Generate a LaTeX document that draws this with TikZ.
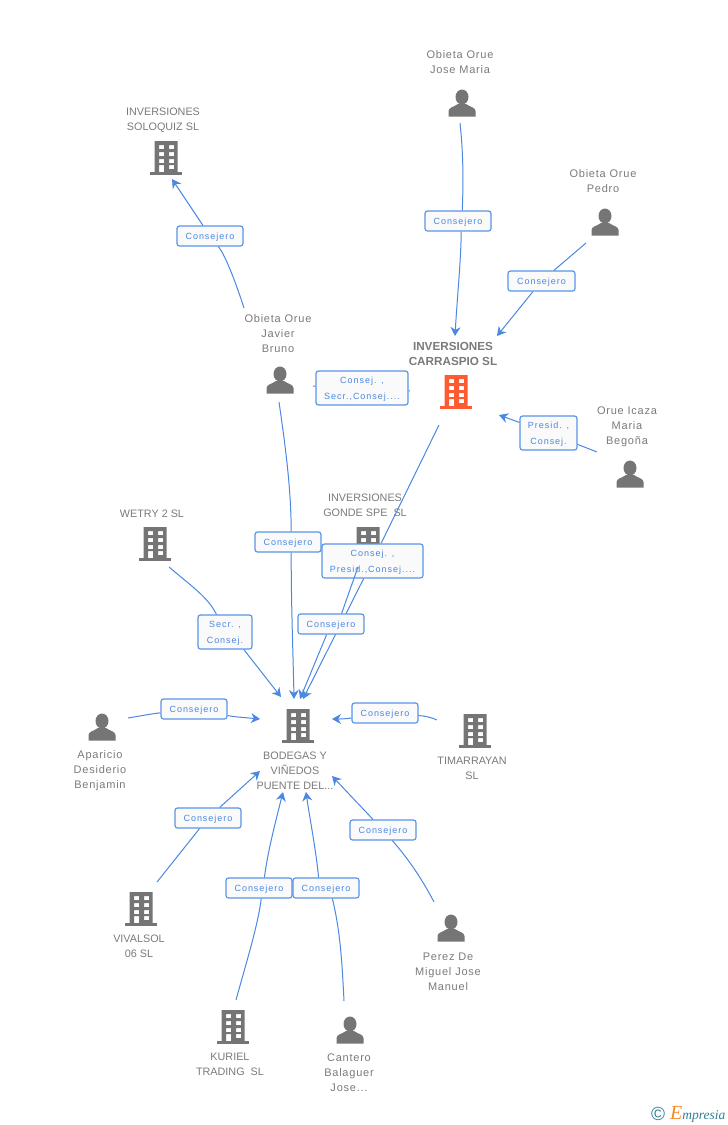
\documentclass[tikz,border=0pt]{standalone}
\usepackage{fontspec}
\setmainfont[LetterSpace=7]{Liberation Sans}
\newfontfamily\tagfont[LetterSpace=11]{Liberation Sans}
\newfontfamily\mainfont{Liberation Sans}
\newfontfamily\logofont{Liberation Serif}
\usepackage{xcolor}
\usetikzlibrary{arrows.meta}

\definecolor{iconcol}{HTML}{757575}
\definecolor{textcol}{HTML}{7A7A7A}
\definecolor{wirecol}{HTML}{4A88E2}
\definecolor{tagcol}{HTML}{5B94E6}
\definecolor{maincol}{HTML}{FF5B33}
\definecolor{logocol}{HTML}{2F7F96}
\definecolor{logoorange}{HTML}{F08A24}

\tikzset{
    wire/.style={draw=wirecol, line width=1pt},
    arrowed/.style={wire, -{Stealth[length=9pt, width=10pt]}},
    tag/.style={draw=tagcol, line width=1.2pt, rounded corners=2.5pt, fill=black!2, text=wirecol,
        inner sep=0pt, align=center, text depth=0pt, font=\tagfont\fontsize{9}{16}\selectfont},
    shorttag/.style={tag, minimum width=66pt, minimum height=20pt},
    ent/.style={text=textcol, inner sep=0pt, align=center, font=\fontsize{11}{15}\selectfont},
    company/.style={ent, font=\mainfont\fontsize{10.8}{15}\selectfont},
    building/.pic={
        \fill[even odd rule] (-11.5,-17) rectangle (11.5,14)
            (-7,-13) rectangle (-2,-9) (3,-13) rectangle (8,-9)
            (-7,-6) rectangle (-2,-2) (3,-6) rectangle (8,-2)
            (-7,1) rectangle (-2,5) (3,1) rectangle (8,5)
            (-7,7) rectangle (-2,14) (3,7) rectangle (8,11);
        \fill (-16,14) rectangle (16,17);
    },
    person/.pic={
        \fill (0,-6) ellipse [x radius=6.5pt, y radius=7.5pt];
        \fill (-13.5,13.5) -- (-13.5,8) .. controls (-13.5,4.5) and (-8,4) .. (-4,1)
            -- (4,1) .. controls (8,4) and (13.5,4.5) .. (13.5,8) -- (13.5,13.5) -- cycle;
    }
}

\begin{document}
\begin{tikzpicture}[x=1pt, y=-1pt]
    \useasboundingbox (0,0) rectangle (728,1125);

    % icons
    \path[fill=iconcol]
        (166,158) pic {building}
        (368,544) pic {building}
        (155,544) pic {building}
        (298,726) pic {building}
        (475,731) pic {building}
        (141,909) pic {building}
        (233,1027) pic {building}
        (462,103) pic {person}
        (605,222) pic {person}
        (280,380) pic {person}
        (630,474) pic {person}
        (102,727) pic {person}
        (350,1030) pic {person}
        (451,928) pic {person};
    \path[fill=maincol] (456,392) pic {building};

    % names
    \node[company] at (163,120.5) (soloquiz) {INVERSIONES\\SOLOQUIZ SL};
    \node[ent] at (460,62) (josemaria) {Obieta Orue\\Jose Maria};
    \node[ent] at (603,181) (pedro) {Obieta Orue\\Pedro};
    \node[ent] at (278,334) (javier) {Obieta Orue\\Javier\\Bruno};
    \node[ent, font=\mainfont\bfseries\fontsize{11.7}{15}\selectfont] at (453,354) (carraspio) {INVERSIONES\\CARRASPIO SL};
    \node[ent] at (627,427) (orue) {Orue Icaza\\Maria\\Begoña};
    \node[company] at (365,505) (gonde) {INVERSIONES\\GONDE SPE\ \ SL};
    \node[company] at (152,514) (wetry) {WETRY 2 SL};
    \node[company] at (295,771) (bodegas) {BODEGAS Y\\VIÑEDOS\\PUENTE DEL...};
    \node[ent] at (100,771) (aparicio) {Aparicio\\Desiderio\\Benjamin};
    \node[company] at (472,768) (timarrayan) {TIMARRAYAN\\SL};
    \node[company] at (139,946) (vivalsol) {VIVALSOL\\06 SL};
    \node[company] at (230,1064) (kuriel) {KURIEL\\TRADING\ \ SL};
    \node[ent] at (349,1073) (cantero) {Cantero\\Balaguer\\Jose...};
    \node[ent] at (448,972) (perez) {Perez De\\Miguel Jose\\Manuel};

    % tags
    \node[shorttag] at (210,236) (tagsoloquiz) {Consejero};
    \node[shorttag] at (458,221) (tagjose) {Consejero};
    \node[shorttag, minimum width=67pt] at (541.5,281) (tagpedro) {Consejero};
    \node[tag, minimum width=92pt, minimum height=34pt] at (362,388) (tagjavier) {Consej. ,\\Secr.,Consej....};
    \node[tag, minimum width=57pt, minimum height=34pt] at (548.5,433) (tagorue) {Presid. ,\\Consej.};
    \node[shorttag] at (288,542) (tagbruno) {Consejero};
    \node[tag, minimum width=101pt, minimum height=34pt] at (372.5,561) (tagmain) {Consej. ,\\Presid.,Consej....};
    \node[tag, minimum width=54pt, minimum height=34pt] at (225,632) (tagwetry) {Secr. ,\\Consej.};
    \node[shorttag] at (194,709) (tagaparicio) {Consejero};
    \node[shorttag] at (385,713) (tagtima) {Consejero};
    \node[shorttag] at (208,818) (tagviva) {Consejero};
    \node[shorttag] at (259,888) (tagkuriel) {Consejero};
    \node[shorttag] at (326,888) (tagcantero) {Consejero};
    \node[shorttag] at (383,830) (tagperez) {Consejero};

    % free ends of the connectors
    \coordinate (a1) at (244,308);
    \coordinate (a2) at (172,179);
    \coordinate (b1) at (460,123);
    \coordinate (b2) at (455,336);
    \coordinate (c1) at (586,243);
    \coordinate (c2) at (497,336);
    \coordinate (d1) at (313,386);
    \coordinate (d2) at (410,391);
    \coordinate (e1) at (597,452);
    \coordinate (e2) at (499,415);
    \coordinate (f1) at (279,402);
    \coordinate (f2) at (294,699);
    \coordinate (g1) at (439,425);
    \coordinate (g2) at (303,699);
    \coordinate (h1) at (358,567);
    \coordinate (h2) at (300,699);
    \coordinate (i1) at (169,567);
    \coordinate (i2) at (281,697);
    \coordinate (j1) at (128,718);
    \coordinate (j2) at (260,719);
    \coordinate (k1) at (437,720);
    \coordinate (k2) at (332,719);
    \coordinate (l1) at (157,882);
    \coordinate (l2) at (260,771);
    \coordinate (m1) at (236,1000);
    \coordinate (m2) at (283,792);
    \coordinate (n1) at (344,1001);
    \coordinate (n2) at (306,792);
    \coordinate (o1) at (434,902);
    \coordinate (o2) at (332,776);

    % this one runs behind the tag below it
    \draw[wire] (g1) to (tagmain);
    \draw[arrowed] (tagmain) to (g2);
    \node[shorttag] at (331,624) (taggonde) {Consejero};

    \draw[wire] (a1) .. controls (235,280) and (225,255) .. (tagsoloquiz);
    \draw[arrowed] (tagsoloquiz) to (a2);
    \draw[wire] (b1) .. controls (464,160) and (463,190) .. (tagjose.68);
    \draw[arrowed] (tagjose.-73) .. controls (461,260) and (457,300) .. (b2);
    \draw[wire] (c1) to (tagpedro);
    \draw[arrowed] (tagpedro) to (c2);
    \draw[wire] (d1) to (tagjavier);
    \draw[wire] (tagjavier) to (d2);
    \draw[wire] (e1) to (tagorue);
    \draw[arrowed] (tagorue) to (e2);
    \draw[wire] (f1) .. controls (286,450) and (291,490) .. (tagbruno.73);
    \draw[arrowed] (tagbruno.-73) .. controls (291,600) and (293,650) .. (f2);
    \draw[wire] (h1) to (taggonde.45);
    \draw[arrowed] (taggonde) to (h2);
    \draw[wire] (i1) .. controls (190,585) and (208,597) .. (tagwetry);
    \draw[arrowed] (tagwetry.-43) to (i2);
    \draw[wire] (j1) .. controls (140,716) and (150,714) .. (tagaparicio);
    \draw[arrowed] (tagaparicio) .. controls (235,717) and (250,718) .. (j2);
    \draw[wire] (k1) .. controls (430,717) and (425,716) .. (tagtima);
    \draw[arrowed] (tagtima) .. controls (345,719) and (340,719) .. (k2);
    \draw[wire] (l1) to (tagviva);
    \draw[arrowed] (tagviva) to (l2);
    \draw[wire] (m1) .. controls (247,960) and (258,925) .. (tagkuriel.-78);
    \draw[arrowed] (tagkuriel.63) .. controls (268,850) and (276,820) .. (m2);
    \draw[wire] (n1) .. controls (342,960) and (340,930) .. (tagcantero.-59);
    \draw[arrowed] (tagcantero.125) .. controls (316,850) and (310,820) .. (n2);
    \draw[wire] (o1) .. controls (420,875) and (405,855) .. (tagperez);
    \draw[arrowed] (tagperez) to (o2);

    % logo
    \node[text=logocol, inner sep=0pt, font=\mainfont\fontsize{19}{19}\selectfont] at (658,1114) (copyr) {©};
    \node[text=logocol, inner sep=0pt, anchor=west, font=\logofont\itshape\fontsize{13.5}{15}\selectfont] at (670,1114) (logo) {{\color{logoorange}\fontsize{20}{15}\selectfont E}mpresia};
\end{tikzpicture}
\end{document}
